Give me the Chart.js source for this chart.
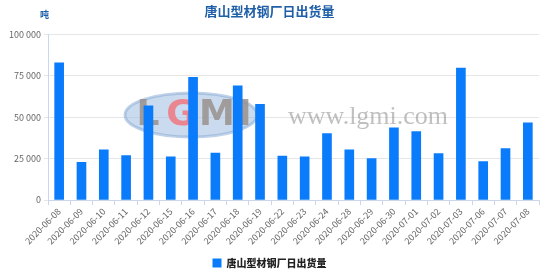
<!DOCTYPE html>
<html>
<head>
<meta charset="utf-8">
<script src="https://cdn.jsdelivr.net/npm/chart.js@4"></script>
<style>
  html, body { margin: 0; padding: 0; background: #fff; }
  #wrap { width: 553px; height: 275px; }
</style>
</head>
<body>
<div id="wrap"><canvas id="chart" width="553" height="275"></canvas></div>
<script>
/* ─── Data ─── */
const TITLE = '唐山型材钢厂日出货量';
const UNIT = '吨';
const dates = [
  '2020-06-08', '2020-06-09', '2020-06-10', '2020-06-11', '2020-06-12', '2020-06-15',
  '2020-06-16', '2020-06-17', '2020-06-18', '2020-06-19', '2020-06-22', '2020-06-23',
  '2020-06-24', '2020-06-28', '2020-06-29', '2020-06-30', '2020-07-01', '2020-07-02',
  '2020-07-03', '2020-07-06', '2020-07-07', '2020-07-08',
];
const shipments = [
  83000, 22700, 30300, 26900, 57000, 26100,
  74100, 28300, 69100, 57800, 26500, 26100,
  40200, 30300, 25100, 43600, 41400, 28100,
  79700, 23300, 31100, 46600,
];
const yTicks = [0, 25000, 50000, 75000, 100000];

/* ─── Colours ─── */
const BAR_COLOR   = '#0a7cfb';
const AXIS_COLOR  = '#ccd6eb';
const GRID_COLOR  = '#e6e6e6';
const LABEL_COLOR = '#666666';
const TITLE_COLOR = '#1f5fa8';
const FONT = "'Noto Sans CJK SC', 'Noto Sans', sans-serif";

const fmt = v => String(v).replace(/\B(?=(\d{3})+(?!\d))/g, ' ');

/* ─── Watermark + unit label ─── */
const decorPlugin = {
  id: 'decor',
  beforeDatasetsDraw(chart) {
    const c = chart.ctx;
    c.save();
    // logo ellipse
    c.beginPath();
    c.ellipse(191, 115, 66, 22, 0, 0, Math.PI * 2);
    c.fillStyle = 'rgba(160,190,225,0.55)';
    c.fill();
    c.lineWidth = 3;
    c.strokeStyle = 'rgba(130,165,210,0.5)';
    c.stroke();
    c.font = "bold 36px 'DejaVu Sans', sans-serif";
    c.textBaseline = 'middle';
    c.textAlign = 'center';
    const letters = [['L', 148, 'rgba(150,140,135,0.8)'], ['G', 181, 'rgba(240,120,130,0.85)'],
                     ['M', 217, 'rgba(150,140,135,0.8)'], ['I', 245, 'rgba(150,140,135,0.8)']];
    letters.forEach(([t, x, col]) => { c.fillStyle = col; c.fillText(t, x, 116); });
    // site text
    c.font = "26px 'Liberation Serif', 'DejaVu Serif', serif";
    c.fillStyle = 'rgba(140,140,140,0.55)';
    c.textAlign = 'left';
    c.fillText('www.lgmi.com', 288, 117);
    c.restore();
  },
  afterDraw(chart) {
    const c = chart.ctx;
    c.save();
    c.font = `bold 9px ${FONT}`;
    c.fillStyle = TITLE_COLOR;
    c.textAlign = 'left';
    c.textBaseline = 'middle';
    c.fillText(UNIT, 40, 15);
    c.restore();
  },
};

Chart.defaults.font.family = FONT;

new Chart(document.getElementById('chart'), {
  type: 'bar',
  data: {
    labels: dates,
    datasets: [{
      label: TITLE,
      data: shipments,
      backgroundColor: BAR_COLOR,
      borderWidth: 0,
      barThickness: 9,
    }],
  },
  options: {
    responsive: false,
    animation: false,
    layout: { padding: { left: 0, right: 14, top: 0, bottom: -3 } },
    plugins: {
      title: {
        display: true,
        text: TITLE,
        color: TITLE_COLOR,
        font: { size: 13, weight: 'bold' },
        padding: { top: 3, bottom: 16 },
      },
      legend: {
        position: 'bottom',
        labels: {
          boxWidth: 9,
          boxHeight: 9,
          color: '#222222',
          font: { size: 10, weight: '900' },
          padding: 3,
        },
      },
      tooltip: { enabled: false },
    },
    scales: {
      x: {
        offset: true,
        border: { display: true, color: AXIS_COLOR, width: 1 },
        grid: { offset: true, drawOnChartArea: false, drawTicks: true, tickLength: 5, color: AXIS_COLOR },
        ticks: { color: LABEL_COLOR, font: { size: 9 }, minRotation: 45, maxRotation: 45, padding: 1 },
        afterFit: s => { s.height = 55; },
      },
      y: {
        min: 0,
        max: 100000,
        border: { display: true, color: AXIS_COLOR, width: 1 },
        grid: { color: GRID_COLOR, tickLength: 4, tickColor: GRID_COLOR },
        afterBuildTicks: s => { s.ticks = yTicks.map(v => ({ value: v })); },
        ticks: { color: LABEL_COLOR, font: { size: 9 }, padding: 3, callback: v => fmt(v) },
        afterFit: s => { s.width = 48; },
      },
    },
  },
  plugins: [decorPlugin],
});
</script>
</body>
</html>
